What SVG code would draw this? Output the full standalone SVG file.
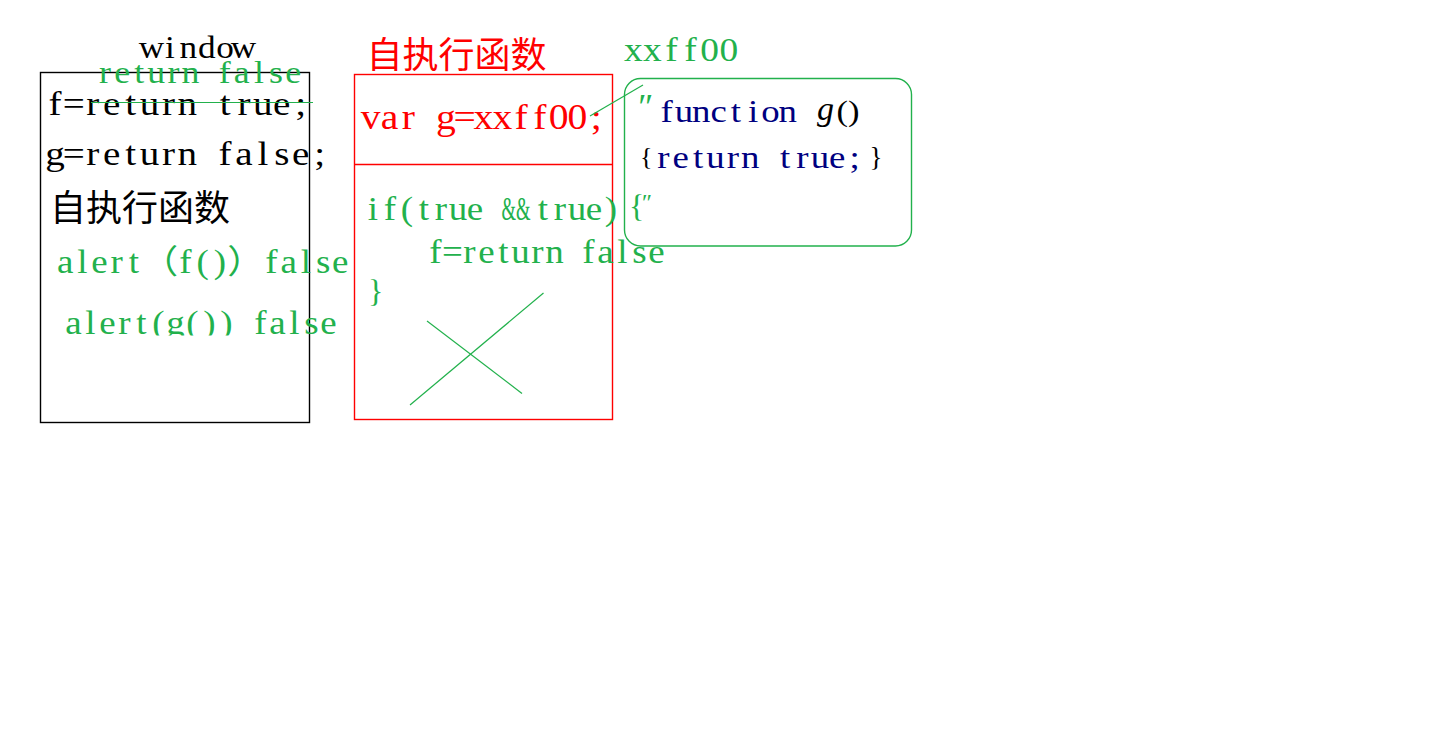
<svg xmlns="http://www.w3.org/2000/svg" width="1442" height="730" viewBox="0 0 1442 730">
<style>
.m{font-family:"Liberation Serif","Noto Sans CJK SC",serif;text-anchor:middle;font-variant-ligatures:none;}
.s{font-family:"Liberation Serif",serif;}
.c{font-family:"Noto Sans CJK SC",sans-serif;font-size:36px;}
.k{fill:#000;}
.g{fill:#22b14c;}
.r{fill:#ff0000;}
.n{fill:#000080;}
.box{fill:none;stroke-width:1.4;}
.ln{stroke:#22b14c;stroke-width:1.2;fill:none;}
</style>
<defs>
<clipPath id="cut"><rect x="0" y="0" width="1442" height="335.5"/></clipPath>
</defs>
<rect width="1442" height="730" fill="#fff"/>
<g id="window">
<rect class="box" x="40.5" y="72.5" width="269" height="350" stroke="#000"/>
<text class="m k" font-size="32" transform="translate(151.5 0) scale(1.1 1)" y="58" x="0 16.73 33.45 50.18 66.91 83.64">window</text>
<text class="m g" font-size="32" transform="translate(105 0) scale(1.12 1)" y="83" x="0 15.27 30.54 45.8 61.07 76.34 91.61 106.88 122.14 137.41 152.68 167.95">return false</text>
<text class="m k" font-size="34" transform="translate(55 0) scale(1.15 1)" y="115.5" x="0 16.43 32.87 49.3 65.74 82.17 98.61 115.04 131.48 147.91 164.35 180.78 197.22 213.65">f=return true;</text>
<text class="m k" font-size="34" transform="translate(55 0) scale(1.15 1)" y="165" x="0 16.43 32.87 49.3 65.74 82.17 98.61 115.04 131.48 147.91 164.35 180.78 197.22 213.65 230.09">g=return false;</text>
<text class="c k" x="50" y="220.5" textLength="180" lengthAdjust="spacingAndGlyphs">自执行函数</text>
<text class="m g" font-size="33" transform="translate(65.1 0) scale(1.12 1)" y="273" x="0 15.36 30.71 46.07 61.43 84.46 107.5 122.86 138.21 161.25 184.29 199.64 215 230.36 245.71">alert（f()）false</text>
<g clip-path="url(#cut)">
<text class="m g" font-size="33" transform="translate(73.5 0) scale(1.12 1)" y="334" x="0 15.18 30.36 45.54 60.71 75.89 91.07 106.25 121.43 136.61 151.79 166.96 182.14 197.32 212.5 227.68">alert(g()) false</text>
</g>
</g>
<g id="iife">
<rect class="box" x="354.5" y="74.5" width="258" height="345" stroke="#ff0000"/>
<line x1="354.5" y1="164.5" x2="612.5" y2="164.5" stroke="#ff0000" stroke-width="1.4"/>
<text class="c r" x="366.5" y="67.5" textLength="180" lengthAdjust="spacingAndGlyphs">自执行函数</text>
<text class="m r" font-size="36" transform="translate(370.7 0) scale(1.1 1)" y="129" x="0 17.09 34.18 51.27 68.36 85.45 102.55 119.64 136.73 153.82 170.91 188 205.09">var g=xxff00;</text>
<text class="m g" font-size="33" transform="translate(373 0) scale(1.12 1)" y="220" x="0 15.18 30.36 45.54 60.71 75.89 91.07 106.25">if(true </text>
<text class="s g" font-size="33" y="220" x="501.5" textLength="29" lengthAdjust="spacingAndGlyphs">&amp;&amp;</text>
<text class="m g" font-size="33" transform="translate(543 0) scale(1.12 1)" y="220" x="0 15.18 30.36 45.54 60.71">true)</text>
<text class="s g" x="629" y="217" font-size="32">{</text>
<text class="s g" x="642" y="210" font-size="24">″</text>
<text class="m g" font-size="33" transform="translate(435.5 0) scale(1.12 1)" y="263" x="0 15.18 30.36 45.54 60.71 75.89 91.07 106.25 121.43 136.61 151.79 166.96 182.14 197.32">f=return false</text>
<text class="s g" x="368" y="302" font-size="32">}</text>
</g>
<g id="xxff00">
<rect class="box" x="624.5" y="78.5" width="287" height="167.5" rx="16" stroke="#22b14c"/>
<text class="m g" font-size="34" transform="translate(633.3 0) scale(1.1 1)" y="61" x="0 17.36 34.73 52.09 69.45 86.82">xxff00</text>
<text class="s g" x="636" y="119" font-size="36" font-style="italic">″</text>
<text class="m n" font-size="32" transform="translate(666.7 0) scale(1.15 1)" y="122" x="0 15.04 30.09 45.13 60.17 75.22 90.26 105.3">function</text>
<text class="s k" x="817" y="120" font-size="34" font-style="italic">g</text>
<text class="s k" x="836.5" y="121" font-size="30" textLength="23" lengthAdjust="spacingAndGlyphs">()</text>
<text class="s k" x="640" y="165" font-size="26">{</text>
<text class="m n" font-size="32" transform="translate(663.3 0) scale(1.15 1)" y="167.7" x="0 15.13 30.26 45.39 60.52 75.65 90.78 105.91 121.04 136.17 151.3 166.43">return true;</text>
<text class="s k" x="869.5" y="166" font-size="27">}</text>
</g>
<g id="connectors">
<line class="ln" x1="91" y1="102.5" x2="313" y2="102.5"/>
<line class="ln" x1="590" y1="116" x2="643" y2="85"/>
<line class="ln" x1="410" y1="405" x2="543.5" y2="293"/>
<line class="ln" x1="427" y1="321" x2="522" y2="393.5"/>
</g>
</svg>
